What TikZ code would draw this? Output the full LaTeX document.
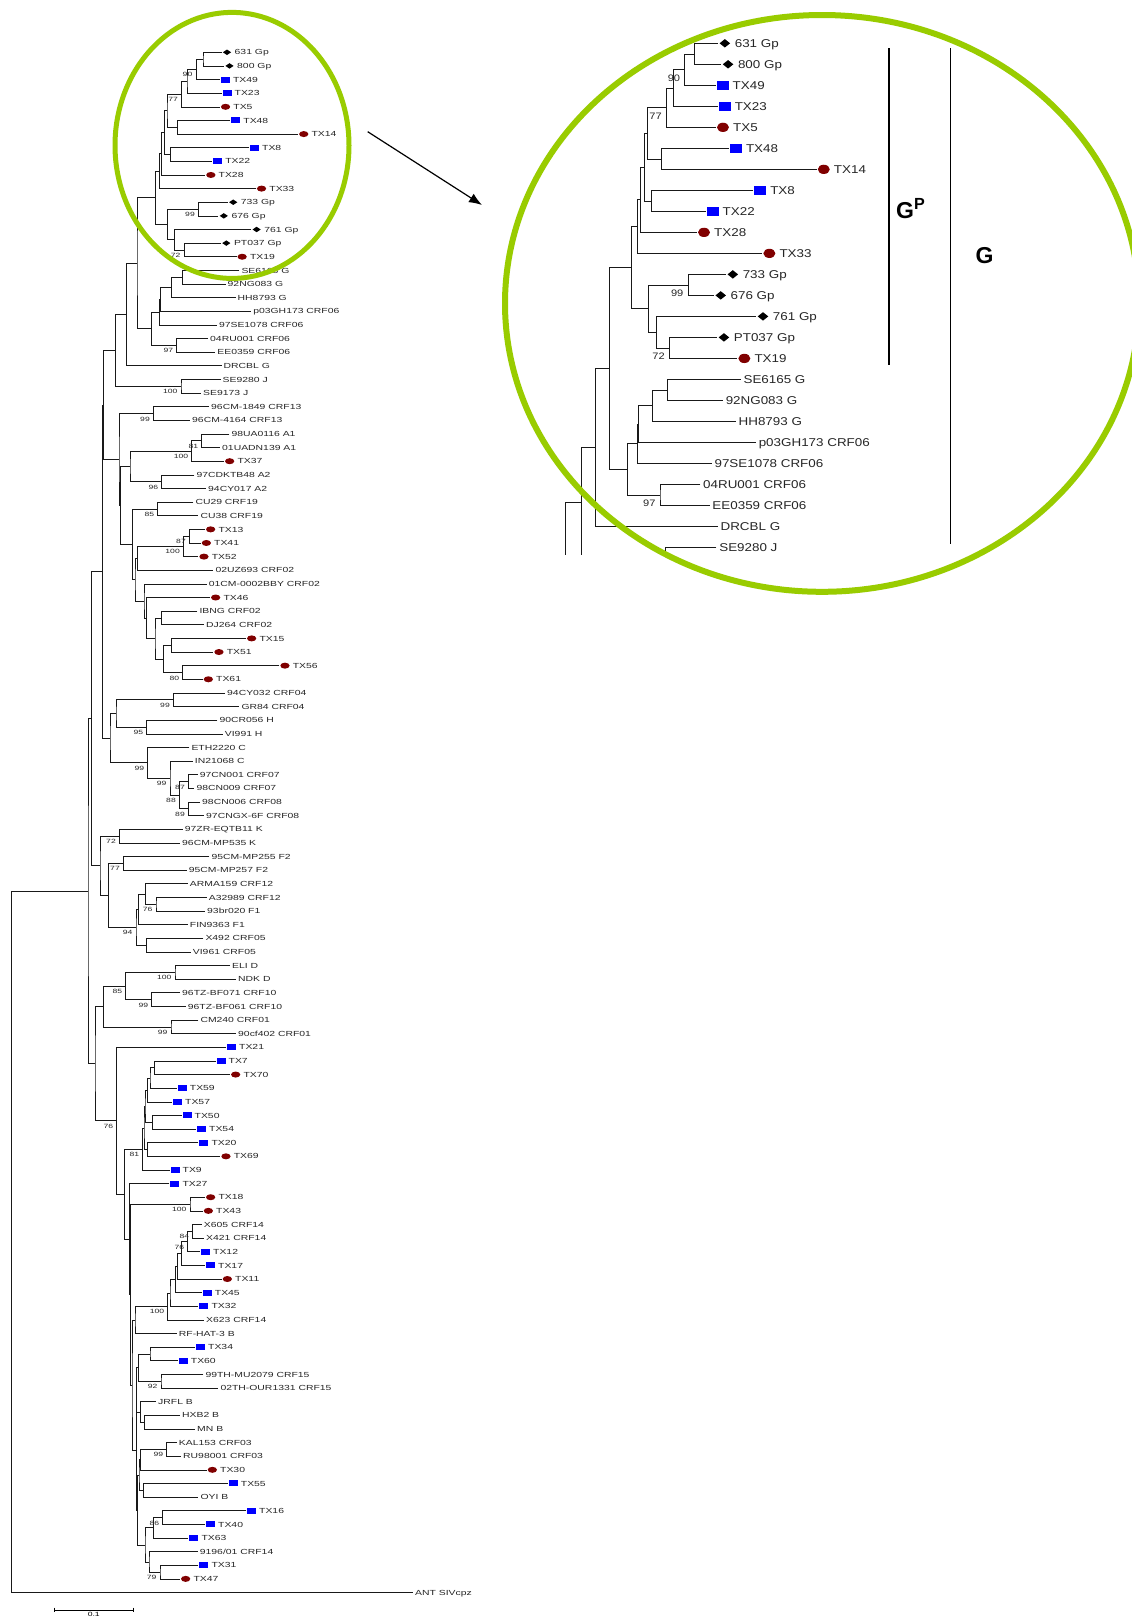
\documentclass[tikz,border=0pt]{standalone}
\usepackage{fontspec}
\setmainfont{Liberation Sans}
\usetikzlibrary{shapes.geometric,arrows.meta}

\definecolor{zoomgreen}{RGB}{153,204,0}
\definecolor{tipred}{RGB}{128,0,0}
\definecolor{tipblue}{RGB}{0,0,255}

% last leaf row that gets its name written
\newcommand\lastleaf{114}

% the whole tree, in px along x and leaf rows along y
\newcommand\drawtree{%
\begin{scope}[y=-13.63pt, yshift=-38.67pt]
  \foreach \n/\x/\y in {nA/203/1.5, nB/195.8/2.25, nC/187/3.125, nD/181.5/4.0625, nF/177.7/6.5,
      nE/167/5.2813, nG/170.2/8.5, nH/164.2/6.8906, nI/161.1/8.4453, nJ/159.2/9.7227,
      nL/198.3/12.5, nM/183.9/15.5, nN/173.9/14.75, nO/167.6/13.625, nK/154.8/11.6738,
      nP/182.4/17.5, nQ/171.1/18.25, nR/160.2/19.125, nS/158.9/20.0625, nT/176.7/22.5,
      nU/151.4/21.2813, nV/137/16.4775, nW/126.4/20.2388, nJc/181/25.5, nX/115.7/22.8694,
      n13/153.3/27.5, nA1/201.7/29.5, nA1b/191.7/30.25, nA2/161.7/32.5, nAc/130/31.375,
      n19/157.7/34.5, n1341/189.3/36.5, n52/183.3/37.25, nUZ/137.7/38.125, n1551/171.7/44.5,
      n5661/182.7/46.5, n1561/163.3/45.5, nIB/161.7/42.5, nIBc/155/44, n46/146.7/42.5,
      nCM/144/41.25, n02/135/39.6875, n19b/132.7/37.0938, nZ1b/120.7/34.2344, nZ1/119/30.8672,
      nY1/103.3/26.8683, n04/173.3/48.5, nHh/146.7/50.5, n04H/116/49.5, nC07/188.3/54.5,
      nC08/188.3/56.5, nC78/179.3/55.5, nIN/170/54.25, nCc/147.7/53.125, nZ2/110/51.3125,
      nY2/102.7/39.0904, nKk/119.3/58.5, nF2/123.3/60.5, n1263/156/63.5, n1262/145.7/62.75,
      nF1/138.3/63.875, n05/146.7/66.5, nFF/136/65.1875, nF2F/108.3/62.8438, nKF/100/60.6719,
      nAA/91.7/49.8811, nDd/175/68.5, n10/151.7/70.5, nD10/125.7/69.5, n01/171/72.5,
      nDC/103.3/71, n770/154.3/75.5, n59/150/76.25, n57/147.3/77.125, n5054/152.7/79.5,
      n50/145/78.3125, n2069/147.3/81.5, n20/144/79.9063, n9/142.7/81.4531, n1843/190/85.5,
      nX6/192.7/87.5, nT12/187.7/88.25, nT17/181.7/89.125, nT11/177.7/90.0625, nT45/175.7/91.0313,
      nT32/170/92.0156, nX623/167.7/93.0078, nRF/135/94.0039, n3460/150/96.5, n15/161/98.5,
      n3415/138.3/97.5, nHM/144.3/101.5, nJR/140.7/100.75, nQ99/136.7/99.125, n03/166.7/103.5,
      n30/140.7/104.25, n55/143.3/106.5, nQ105/139/105.375, n1640/162.7/108.5, n63/153.3/109.25,
      n3147/160/112.5, n96/149/111.75, nQ110/145/110.5, nR1/137.7/107.9375, nB2d/136.2/103.5313,
      nB2c/132/98.7676, nB2b/130.5/92.1338, nB2/129.3/88.0669, nBsub/124.3/84.76, nBn/116.7/79.38,
      nLL/95/75.19, ning/88/62.5356, nroot/11.7/88.2678}
    \coordinate (\n) at (\x,\y);

  \foreach \i/\x in {1/221.5, 2/224, 3/219.9, 4/221.5, 5/219.9, 6/230.2, 7/298.1, 8/249,
      9/212.1, 10/205.2, 11/255.9, 12/227.7, 13/218.3, 14/251.1, 15/220.8, 16/236.5, 17/239.3,
      18/225.5, 19/235.5, 20/251.1, 21/216.8, 22/208, 23/215.2, 24/221.5, 25/220.5, 26/201,
      27/209, 28/190, 29/229.3, 30/220, 31/224, 32/194.3, 33/206, 34/193.3, 35/198.3, 36/205,
      37/200.7, 38/198.3, 39/213.3, 40/206.7, 41/210, 42/197.3, 43/204, 44/246, 45/213.3,
      46/279.3, 47/202.7, 48/225, 49/239.3, 50/217.3, 51/222.7, 52/189.3, 53/192.7, 54/197.7,
      55/194.3, 56/200, 57/204, 58/182.7, 59/180, 60/209.3, 61/186.7, 62/187.7, 63/206.7,
      64/205, 65/187.7, 66/203.3, 67/190.7, 68/230, 69/236, 70/180, 71/185.7, 72/198.3, 73/236,
      74/226, 75/215.5, 76/230, 77/176.7, 78/172, 79/181.5, 80/196, 81/198.3, 82/220.3,
      83/169.5, 84/169.3, 85/205, 86/202.7, 87/201.7, 88/204, 89/200, 90/205, 91/221.7,
      92/201.7, 93/198.3, 94/204, 95/176.7, 96/195, 97/177.7, 98/203.3, 99/218.3, 100/156,
      101/180, 102/195, 103/176.7, 104/181, 105/206.7, 106/227.7, 107/198.3, 108/246, 109/205,
      110/188.3, 111/197.7, 112/198.3, 113/180, 114/413}
    \coordinate (l\i) at (\x,\i);

  \foreach \p/\a/\b in {nA/l1/l2, nB/nA/l3, nC/nB/l4, nD/nC/l5, nF/l6/l7, nE/nD/nF, nG/l8/l9,
      nH/nE/nG, nI/nH/l10, nJ/nI/l11, nL/l12/l13, nM/l15/l16, nN/l14/nM, nO/nL/nN, nK/nJ/nO,
      nP/l17/l18, nQ/nP/l19, nR/nQ/l20, nS/nR/l21, nT/l22/l23, nU/nS/nT, nV/nK/nU, nW/nV/l24,
      nJc/l25/l26, nX/nW/nJc, n13/l27/l28, nA1/l29/l30, nA1b/nA1/l31, nA2/l32/l33, nAc/nA1b/nA2,
      n19/l34/l35, n1341/l36/l37, n52/n1341/l38, nUZ/n52/l39, n1551/l44/l45, n5661/l46/l47,
      n1561/n1551/n5661, nIB/l42/l43, nIBc/nIB/n1561, n46/l41/nIBc, nCM/l40/n46, n02/nUZ/nCM,
      n19b/n19/n02, nZ1b/nAc/n19b, nZ1/n13/nZ1b, nY1/nX/nZ1, n04/l48/l49, nHh/l50/l51,
      n04H/n04/nHh, nC07/l54/l55, nC08/l56/l57, nC78/nC07/nC08, nIN/l53/nC78, nCc/l52/nIN,
      nZ2/n04H/nCc, nY2/nY1/nZ2, nKk/l58/l59, nF2/l60/l61, n1263/l63/l64, n1262/l62/n1263,
      nF1/n1262/l65, n05/l66/l67, nFF/nF1/n05, nF2F/nF2/nFF, nKF/nKk/nF2F, nAA/nY2/nKF,
      nDd/l68/l69, n10/l70/l71, nD10/nDd/n10, n01/l72/l73, nDC/nD10/n01, n770/l75/l76,
      n59/n770/l77, n57/n59/l78, n5054/l79/l80, n50/n57/n5054, n2069/l81/l82, n20/n50/n2069,
      n9/n20/l83, n1843/l85/l86, nX6/l87/l88, nT12/nX6/l89, nT17/nT12/l90, nT11/nT17/l91,
      nT45/nT11/l92, nT32/nT45/l93, nX623/nT32/l94, nRF/nX623/l95, n3460/l96/l97, n15/l98/l99,
      n3415/n3460/n15, nHM/l101/l102, nJR/l100/nHM, nQ99/n3415/nJR, n03/l103/l104,
      n30/n03/l105, n55/l106/l107, nQ105/n30/n55, n1640/l108/l109, n63/n1640/l110,
      n3147/l112/l113, n96/l111/n3147, nQ110/n63/n96, nR1/nQ105/nQ110, nB2d/nQ99/nR1,
      nB2c/nRF/nB2d, nB2b/n1843/nB2c, nB2/l84/nB2b, nBsub/n9/nB2, nBn/l74/nBsub,
      nLL/nDC/nBn, ning/nAA/nLL, nroot/ning/l114}
    \draw[branch] (\a) -| (\p) |- (\b);

  % bootstrap values
  \foreach \n/\v in {nB/90, nD/77, nL/99, nM/72, nT/97}
    \path (\n) ++(-3,0.4) node[bootlbl] (b\n) {\v};
  \ifnum\lastleaf>100
  \foreach \n/\v in {nJc/100, n13/99, nA1/81, nA1b/100,
      nA2/96, n19/85, n1341/87, n52/100, n5661/80, n04/99, nHh/95, nCc/99, nIN/99, nC07/87,
      nC78/88, nC08/89, nKk/72, nF2/77, n1263/76, nFF/94, nDd/100, n10/99, nD10/85, n01/99,
      nBn/76, n9/81, n1843/100, nX6/84, nT12/76, nX623/100, n15/92, n03/99, n1640/86, n3147/79}
    \path (\n) ++(-3,0.4) node[bootlbl] (b\n) {\v};
  \fi

  \foreach \i/\m/\t in {1/mkd/631 Gp, 2/mkd/800 Gp, 3/mks/TX49, 4/mks/TX23, 5/mkc/TX5,
      6/mks/TX48, 7/mkc/TX14, 8/mks/TX8, 9/mks/TX22, 10/mkc/TX28, 11/mkc/TX33, 12/mkd/733 Gp,
      13/mkd/676 Gp, 14/mkd/761 Gp, 15/mkd/PT037 Gp, 16/mkc/TX19, 17/mkn/SE6165 G,
      18/mkn/92NG083 G, 19/mkn/HH8793 G, 20/mkn/p03GH173 CRF06, 21/mkn/97SE1078 CRF06,
      22/mkn/04RU001 CRF06, 23/mkn/EE0359 CRF06, 24/mkn/DRCBL G, 25/mkn/SE9280 J,
      26/mkn/SE9173 J, 27/mkn/96CM-1849 CRF13, 28/mkn/96CM-4164 CRF13, 29/mkn/98UA0116 A1,
      30/mkn/01UADN139 A1, 31/mkc/TX37, 32/mkn/97CDKTB48 A2, 33/mkn/94CY017 A2,
      34/mkn/CU29 CRF19, 35/mkn/CU38 CRF19, 36/mkc/TX13, 37/mkc/TX41, 38/mkc/TX52,
      39/mkn/02UZ693 CRF02, 40/mkn/01CM-0002BBY CRF02, 41/mkc/TX46, 42/mkn/IBNG CRF02,
      43/mkn/DJ264 CRF02, 44/mkc/TX15, 45/mkc/TX51, 46/mkc/TX56, 47/mkc/TX61,
      48/mkn/94CY032 CRF04, 49/mkn/GR84 CRF04, 50/mkn/90CR056 H, 51/mkn/VI991 H,
      52/mkn/ETH2220 C, 53/mkn/IN21068 C, 54/mkn/97CN001 CRF07, 55/mkn/98CN009 CRF07,
      56/mkn/98CN006 CRF08, 57/mkn/97CNGX-6F CRF08, 58/mkn/97ZR-EQTB11 K, 59/mkn/96CM-MP535 K,
      60/mkn/95CM-MP255 F2, 61/mkn/95CM-MP257 F2, 62/mkn/ARMA159 CRF12, 63/mkn/A32989 CRF12,
      64/mkn/93br020 F1, 65/mkn/FIN9363 F1, 66/mkn/X492 CRF05, 67/mkn/VI961 CRF05,
      68/mkn/ELI D, 69/mkn/NDK D, 70/mkn/96TZ-BF071 CRF10, 71/mkn/96TZ-BF061 CRF10,
      72/mkn/CM240 CRF01, 73/mkn/90cf402 CRF01, 74/mks/TX21, 75/mks/TX7, 76/mkc/TX70,
      77/mks/TX59, 78/mks/TX57, 79/mks/TX50, 80/mks/TX54, 81/mks/TX20, 82/mkc/TX69, 83/mks/TX9,
      84/mks/TX27, 85/mkc/TX18, 86/mkc/TX43, 87/mkn/X605 CRF14, 88/mkn/X421 CRF14, 89/mks/TX12,
      90/mks/TX17, 91/mkc/TX11, 92/mks/TX45, 93/mks/TX32, 94/mkn/X623 CRF14, 95/mkn/RF-HAT-3 B,
      96/mks/TX34, 97/mks/TX60, 98/mkn/99TH-MU2079 CRF15, 99/mkn/02TH-OUR1331 CRF15,
      100/mkn/JRFL B, 101/mkn/HXB2 B, 102/mkn/MN B, 103/mkn/KAL153 CRF03,
      104/mkn/RU98001 CRF03, 105/mkc/TX30, 106/mks/TX55, 107/mkn/OYI B, 108/mks/TX16,
      109/mks/TX40, 110/mks/TX63, 111/mkn/{9196/01 CRF14}, 112/mks/TX31, 113/mkc/TX47,
      114/mkn/ANT SIVcpz}
    {\ifnum\i>\lastleaf\relax\else
      \path (l\i) node[\m] (m\i) {} (m\i.east) node[leaflbl] (t\i) {\t};
    \fi}
\end{scope}}

\begin{document}
\begin{tikzpicture}[x=1pt, y=-1pt]
  \tikzstyle{branch}=[line width=0.6pt, draw=black!90]
  \tikzstyle{leaflbl}=[anchor=west, inner xsep=2pt, inner ysep=0pt, yscale=0.707,
    text height=7.5pt, text depth=0pt, text=black!85, font=\fontsize{10.4}{12}\selectfont]
  \tikzstyle{bootlbl}=[anchor=east, inner sep=0.3pt, yscale=0.707, text=black!85,
    font=\fontsize{8.6}{10}\selectfont]
  \tikzstyle{mkd}=[diamond, fill=black, minimum width=9pt, minimum height=6.3pt,
    inner sep=0pt, outer sep=1pt, anchor=west]
  \tikzstyle{mks}=[rectangle, fill=tipblue, minimum width=9pt, minimum height=6pt,
    inner sep=0pt, outer sep=1pt, anchor=west]
  \tikzstyle{mkc}=[ellipse, fill=tipred, minimum width=9.3pt, minimum height=6pt,
    inner sep=0pt, outer sep=1pt, anchor=west]
  \tikzstyle{mkn}=[inner sep=0pt, outer sep=0pt, minimum size=0pt, anchor=west]
  \tikzstyle{ring}=[draw=zoomgreen]
  \tikzstyle{cladebar}=[line width=1.5pt]
  \tikzstyle{cladelbl}=[anchor=base west, inner sep=0pt, font=\fontsize{23}{27}\selectfont\bfseries]

  \path[use as bounding box, fill=white] (0,0) rectangle (1132,1617);

  % main tree
  \drawtree

  % enlarged top of the tree
  \begin{scope}
    \renewcommand\lastleaf{25}
    \clip (540,0) rectangle (1132,554.3);
    \begin{scope}[shift={(432.2,-37.3)}, xscale=1.289, yscale=1.541, transform shape]
      \drawtree
    \end{scope}
  \end{scope}

  \draw[ring, line width=5pt] (232,145.4) ellipse [x radius=117, y radius=133];
  \draw[ring, line width=6pt] (822,303.4) ellipse [x radius=317, y radius=288.4];

  \coordinate (ar1) at (367.7,131.7);
  \coordinate (ar2) at (482,205);
  \draw[line width=1.2pt, -{Latex[length=13pt, width=10pt]}] (ar1) -- (ar2);

  \coordinate (gp1) at (889,48.3);
  \coordinate (gp2) at (889,365);
  \coordinate (g1) at (950.6,48.3);
  \coordinate (g2) at (950.6,544);
  \draw[cladebar] (gp1) -- (gp2);
  \draw[cladebar] (g1) -- (g2);
  \node[cladelbl] (gplbl) at (896,218.3) {G\textsuperscript{P}};
  \node[cladelbl] (glbl) at (975.5,263.3) {G};

  % scale bar
  \coordinate (sb1) at (54.3,1610);
  \coordinate (sb2) at (133.3,1610);
  \draw[line width=0.6pt] (sb1) -- (sb2);
  \draw[line width=0.6pt] (sb1) ++(0,-2.3) -- ++(0,4.6);
  \draw[line width=0.6pt] (sb2) ++(0,-2.3) -- ++(0,4.6);
  \node[anchor=south, inner sep=0pt, yscale=0.707, font=\fontsize{8.6}{10}\selectfont] (sblbl) at (93.8,1616.6) {0.1};
\end{tikzpicture}
\end{document}
